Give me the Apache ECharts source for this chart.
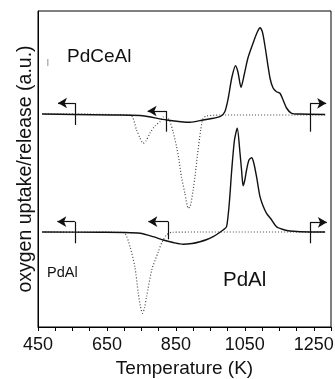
<!DOCTYPE html>
<html>
<head>
<meta charset="utf-8">
<script src="https://cdn.jsdelivr.net/npm/echarts@6/dist/echarts.min.js"></script>
<style>
  html, body { margin: 0; padding: 0; background: #fff; }
  #chart { width: 335px; height: 379px; }
</style>
</head>
<body>
<div id="chart"></div>
<script>
// temperature (K) / signal (a.u.) pairs
const ceSolid = [
  [462, 213], [557, 212.5], [659, 212], [746, 211.5], [823, 207], [891, 204.7], [929, 207],
  [978, 210.3], [992, 215.3], [1002, 229], [1012, 249], [1023, 261.3], [1030, 255], [1039, 239.7],
  [1048, 252], [1059, 269], [1074, 284], [1085, 294], [1094, 299.3], [1101, 295], [1108, 282],
  [1123, 249], [1132, 239], [1142, 235.3], [1152, 233.7], [1161, 227], [1171, 219], [1186, 213.7],
  [1210, 213], [1283, 212.5]
];
const ceDotted = [
  [462, 213], [717, 212], [736, 197], [746, 189], [755, 183.7], [763, 186], [775, 194],
  [789, 201], [804, 205.3], [813, 210], [823, 210], [833, 205], [842, 195], [852, 180.3],
  [859, 167], [866, 150.3], [876, 134], [886, 118.7], [892, 121], [900, 137], [907, 155],
  [912, 170.3], [922, 197], [929, 208.7], [939, 211], [978, 212], [1283, 212]
];
const alSolid = [
  [462, 95], [630, 94.7], [702, 94.5], [746, 93.7], [784, 90.3], [813, 87], [842, 84.5],
  [871, 82.7], [897, 83.5], [920, 85.3], [940, 87.5], [958, 90.3], [975, 94], [987, 97],
  [997, 100.3], [1005, 124], [1012, 157], [1020, 187], [1028, 198.7], [1036, 174], [1041, 155],
  [1045, 141.3], [1050, 147], [1055, 157], [1062, 167], [1070, 169.3], [1076, 164], [1084, 150.3],
  [1094, 130.3], [1103, 121], [1113, 113.7], [1126, 108], [1142, 100.3], [1161, 97.5],
  [1181, 96], [1239, 95], [1283, 95]
];
const alDotted = [
  [462, 95], [688, 94.7], [702, 94], [717, 80.3], [731, 60.3], [741, 33.7], [747, 21],
  [753, 13.7], [759, 19], [765, 30.3], [780, 57], [799, 75.3], [810, 85], [823, 92],
  [838, 94.7], [920, 95], [1283, 95]
];

// direction arrows: foot x, bottom y, top y, arrow tip x
const arrowX    = [557, 823, 1239, 557, 828, 1239];
const arrowLow  = [202, 195.3, 195.3, 83.7, 87.7, 83.7];
const arrowHigh = [224, 216, 223.7, 105.3, 105.3, 104.7];
const arrowTip  = [508, 768, 1286, 506, 770, 1288];

const xTickLabels = [450, 650, 850, 1050, 1250];

const FONT = '"Liberation Sans", Arial, sans-serif';

const arrowLines = [];
arrowX.forEach((x, i) => {
  arrowLines.push([{ coord: [x, arrowLow[i]], symbol: 'none' }, { coord: [x, arrowHigh[i]], symbol: 'none' }]);
  arrowLines.push([{ coord: [x, arrowHigh[i]], symbol: 'none' }, { coord: [arrowTip[i], arrowHigh[i]], symbol: 'arrow' }]);
});

const solid = { color: '#111', width: 1.4 };
const dotted = { color: '#444', width: 1.2, type: [1, 2] };

const chart = echarts.init(document.getElementById('chart'));
chart.setOption({
  animation: false,
  grid: {
    left: 38, right: 4, top: 11, bottom: 52, containLabel: false, outerBoundsMode: 'none',
    show: true, borderColor: '#000', borderWidth: 1
  },
  xAxis: {
    type: 'value', min: 450, max: 1300, interval: 50,
    name: 'Temperature (K)', nameLocation: 'middle', nameGap: 32,
    nameTextStyle: { fontFamily: FONT, fontSize: 19, color: '#111' },
    axisLine: { lineStyle: { color: '#000', width: 1 } },
    axisTick: { show: true, length: 4, lineStyle: { color: '#000' } },
    axisLabel: {
      margin: 9, fontFamily: FONT, fontSize: 18, color: '#111',
      formatter: v => (xTickLabels.indexOf(v) >= 0 ? String(v) : '')
    },
    splitLine: { show: false }
  },
  yAxis: {
    type: 'value', min: 0, max: 316,
    name: 'oxygen uptake/release (a.u.)', nameLocation: 'middle', nameGap: 2, nameRotate: 90,
    nameTextStyle: { fontFamily: FONT, fontSize: 19.5, color: '#111' },
    axisLine: { show: true, lineStyle: { color: '#000', width: 1 } },
    axisTick: { show: false },
    axisLabel: { show: false },
    splitLine: { show: false }
  },
  series: [
    { type: 'line', data: ceDotted, showSymbol: false, smooth: 0.25, lineStyle: dotted },
    { type: 'line', data: alDotted, showSymbol: false, smooth: 0.25, lineStyle: dotted },
    { type: 'line', data: ceSolid, showSymbol: false, smooth: 0.25, lineStyle: solid },
    {
      type: 'line', data: alSolid, showSymbol: false, smooth: 0.25, lineStyle: solid,
      markLine: {
        silent: true, symbolSize: [8, 9], label: { show: false },
        lineStyle: { color: '#111', width: 1.2, type: 'solid' },
        data: arrowLines
      }
    }
  ],
  graphic: [
    { type: 'text', left: 67, top: 47, style: { text: 'PdCeAl', font: '19px ' + FONT, fill: '#111' } },
    { type: 'text', left: 47, top: 59, style: { text: '|', font: '7px ' + FONT, fill: '#444' } },
    { type: 'text', left: 47, top: 265, style: { text: 'PdAl', font: '14.5px ' + FONT, fill: '#111' } },
    { type: 'text', left: 223, top: 270, style: { text: 'PdAl', font: '20.5px ' + FONT, fill: '#111' } }
  ]
});
</script>
</body>
</html>
